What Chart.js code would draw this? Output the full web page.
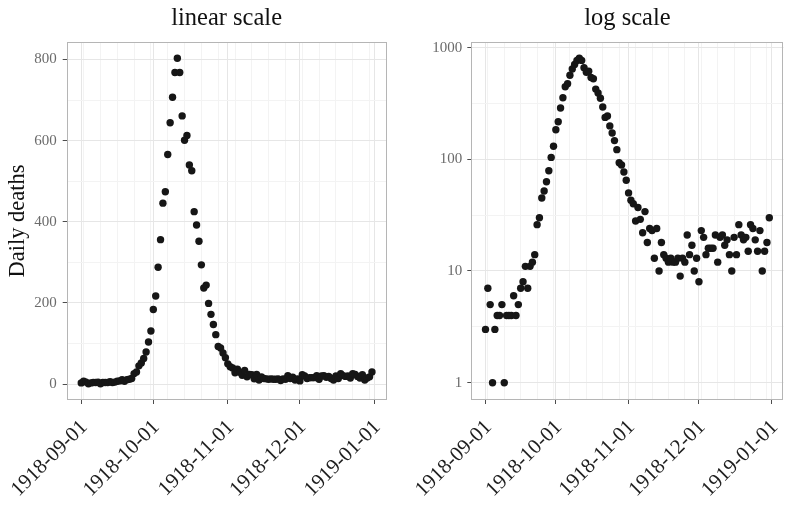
<!DOCTYPE html>
<html>
<head>
<meta charset="utf-8">
<title>Daily deaths 1918</title>
<script src="https://cdn.jsdelivr.net/npm/chart.js@4.4.1/dist/chart.umd.min.js"></script>
<style>
    html, body { margin: 0; padding: 0; background: #fff; }
    #wrap { position: relative; width: 794px; height: 529px; }
    canvas { position: absolute; top: 0; }
    #linearChart { left: 0; }
    #logChart { left: 397px; }
</style>
</head>
<body>
<div id="wrap">
    <canvas id="linearChart" width="397" height="529"></canvas>
    <canvas id="logChart" width="397" height="529"></canvas>
</div>
<script>
/* ── Data ─────────────────────────────────────────── */
var startDate = '1918-09-01';

// one value per day, 1918-09-01 .. 1918-12-31
var deaths = [
    3, 7, 5, 1, 3, 4, 4, 5, 1, 4, 4, 4, 6, 4, 5, 7, 8, 11, 7, 11, 12, 14,
    26, 30, 45, 52, 63, 79, 104, 131, 184, 217, 288, 356, 446, 474, 566, 644, 707, 768,
    803, 768, 661, 601, 613, 540, 526, 425, 392, 352, 294, 237, 244, 199, 172, 147, 122, 93, 89, 77,
    65, 50, 43, 40, 28, 37, 29, 22, 34, 18, 24, 23, 13, 24, 10, 18, 14, 13, 12, 13,
    12, 12, 13, 9, 13, 12, 21, 14, 17, 10, 13, 8, 23, 20, 14, 16, 16, 16, 21, 12,
    20, 21, 17, 19, 14, 10, 20, 14, 26, 21, 19, 20, 15, 26, 24, 19, 15, 23, 10, 15,
    18, 30
];

var monthTicks = ['1918-09-01', '1918-10-01', '1918-11-01', '1918-12-01', '1919-01-01'];
var linearTicks = [0, 200, 400, 600, 800];
var logTicks = [1, 10, 100, 1000];

/* ── Styles ───────────────────────────────────────── */
var SERIF = '"Liberation Serif", "Times New Roman", serif';
var GRID_MAJOR = '#e6e6e6';
var GRID_MINOR = '#f3f3f3';
var TICK_MARK = '#4d4d4d';
var NONE = 'rgba(0,0,0,0)';

function dayOf(s) {
    return Math.round((Date.parse(s) - Date.parse(startDate)) / 864e5);
}

var points = deaths.map(function (v, i) { return { x: i, y: v }; });

// panel border like theme_bw
var panelBorder = {
    id: 'panelBorder',
    afterDraw: function (chart) {
        var a = chart.chartArea, c = chart.ctx;
        c.save();
        c.strokeStyle = '#b5b5b5';
        c.lineWidth = 1;
        c.strokeRect(Math.round(a.left) + 0.5, Math.round(a.top) + 0.5,
            Math.round(a.right - a.left) - 1, Math.round(a.bottom - a.top) - 1);
        c.restore();
    }
};

// title centred over the plot panel, not the canvas
var panelTitle = {
    id: 'panelTitle',
    afterDraw: function (chart, args, opts) {
        var a = chart.chartArea, c = chart.ctx;
        c.save();
        c.fillStyle = '#111';
        c.font = '24.5px ' + SERIF;
        c.textAlign = 'center';
        c.textBaseline = 'middle';
        c.fillText(opts.text, (a.left + a.right) / 2, 19);
        c.restore();
    }
};

function gridOpts() {
    return {
        color: function (ctx) { return ctx.tick && ctx.tick.major ? GRID_MAJOR : GRID_MINOR; },
        tickColor: function (ctx) { return ctx.tick && ctx.tick.major ? TICK_MARK : NONE; },
        lineWidth: 1,
        drawTicks: true,
        tickLength: 4
    };
}

/* ── X axis (days since start) ────────────────────── */
function xScale() {
    var n = deaths.length - 1;
    var majors = monthTicks.map(dayOf);
    var minors = [];
    for (var d = dayOf('1918-09-02'); d <= n; d += 7) minors.push(d);

    return {
        type: 'linear',
        min: -0.05 * n,
        max: n * 1.05,
        afterBuildTicks: function (s) {
            var t = majors.map(function (v) { return { value: v, major: true }; })
                .concat(minors.map(function (v) { return { value: v, major: false }; }));
            t.sort(function (a, b) { return a.value - b.value; });
            s.ticks = t;
        },
        afterFit: function (s) {
            s.height = 129;
            // rotated labels may hang outside, the panel size stays fixed
            s.paddingLeft = s.paddingRight = s.paddingTop = s.paddingBottom = 0;
        },
        grid: gridOpts(),
        border: { display: false },
        ticks: {
            autoSkip: false,
            minRotation: 45,
            maxRotation: 45,
            padding: 11,
            labelOffset: 3,
            color: '#1e1e1e',
            font: { family: SERIF, size: 21 },
            callback: function (v) {
                var i = majors.indexOf(v);
                return i >= 0 ? monthTicks[i] : '';
            }
        }
    };
}

/* ── Chart builder ────────────────────────────────── */
function makeChart(id, title, yScale) {
    return new Chart(document.getElementById(id), {
        type: 'scatter',
        data: {
            datasets: [{
                data: points,
                backgroundColor: '#161616',
                borderWidth: 0,
                pointRadius: 3.7,
                pointHoverRadius: 3.7
            }]
        },
        options: {
            responsive: false,
            animation: false,
            devicePixelRatio: 1,
            layout: { padding: { left: 0, right: 10.5, top: 42, bottom: 0 } },
            plugins: {
                legend: { display: false },
                tooltip: { enabled: false },
                title: { display: false },
                panelTitle: { text: title }
            },
            scales: { x: xScale(), y: yScale }
        },
        plugins: [panelBorder, panelTitle]
    });
}

/* ── Linear panel ─────────────────────────────────── */
var lo = Math.min.apply(null, deaths), hi = Math.max.apply(null, deaths);
var linPad = 0.05 * (hi - lo);
var linMinor = [];
for (var i = 1; i < linearTicks.length; i++) linMinor.push((linearTicks[i - 1] + linearTicks[i]) / 2);

makeChart('linearChart', 'linear scale', {
    type: 'linear',
    min: lo - linPad,
    max: hi + linPad,
    afterBuildTicks: function (s) {
        var t = linearTicks.map(function (v) { return { value: v, major: true }; })
            .concat(linMinor.map(function (v) { return { value: v, major: false }; }));
        t.sort(function (a, b) { return a.value - b.value; });
        s.ticks = t;
    },
    afterFit: function (s) { s.width = 66.7; },
    grid: gridOpts(),
    border: { display: false },
    title: {
        display: true,
        text: 'Daily deaths',
        color: '#111',
        font: { family: SERIF, size: 22.5 },
        padding: { top: 5, bottom: 0 }
    },
    ticks: {
        padding: 6,
        color: '#6b6b6b',
        font: { family: SERIF, size: 15 },
        callback: function (v) { return linearTicks.indexOf(v) >= 0 ? String(v) : ''; }
    }
});

/* ── Log panel ────────────────────────────────────── */
var lgLo = Math.log10(lo), lgHi = Math.log10(hi);
var lgPad = 0.05 * (lgHi - lgLo);
var logMinor = [];
for (var j = 1; j < logTicks.length; j++) logMinor.push(Math.sqrt(logTicks[j - 1] * logTicks[j]));

makeChart('logChart', 'log scale', {
    type: 'logarithmic',
    min: Math.pow(10, lgLo - lgPad),
    max: Math.pow(10, lgHi + lgPad),
    afterBuildTicks: function (s) {
        var t = logTicks.map(function (v) { return { value: v, major: true }; })
            .concat(logMinor.map(function (v) { return { value: v, major: false }; }));
        t.sort(function (a, b) { return a.value - b.value; });
        s.ticks = t;
    },
    afterFit: function (s) { s.width = 74.3; },
    grid: gridOpts(),
    border: { display: false },
    ticks: {
        padding: 5,
        color: '#6b6b6b',
        font: { family: SERIF, size: 15 },
        callback: function (v) { return logTicks.indexOf(v) >= 0 ? String(v) : ''; }
    }
});
</script>
</body>
</html>
